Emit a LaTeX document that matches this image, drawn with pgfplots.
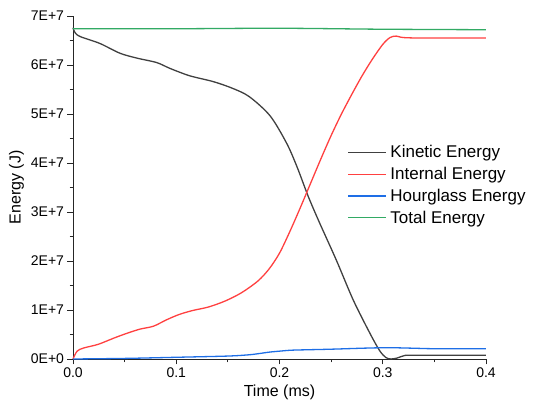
\documentclass[border=0pt]{standalone}
\usepackage{fontspec}
\setmainfont{Liberation Sans}
\usepackage{pgfplots}
\pgfplotsset{compat=1.18}
\definecolor{kinc}{RGB}{64,64,64}
\definecolor{intc}{RGB}{255,64,64}
\definecolor{hgc}{RGB}{30,110,230}
\definecolor{totc}{RGB}{50,170,100}

\begin{document}
\begin{tikzpicture}
\begin{axis}[
    at={(0,0)}, anchor=south west,
    scale only axis,
    width=413pt, height=343pt,
    xmin=0, xmax=0.4, ymin=0, ymax=7e7,
    axis lines=left,
    axis line style={-, line width=0.9pt, black!85},
    tick style={line width=0.9pt, black!85},
    tick align=outside,
    major tick length=5.5pt, minor tick length=3.3pt,
    xtick={0,0.1,0.2,0.3,0.4},
    minor xtick={0.05,0.15,0.25,0.35},
    xticklabel style={/pgf/number format/fixed, /pgf/number format/fixed zerofill, /pgf/number format/precision=1},
    /pgf/number format/assume math mode=true,
    ytick={0,1e7,2e7,3e7,4e7,5e7,6e7,7e7},
    yticklabels={0E+0,1E+7,2E+7,3E+7,4E+7,5E+7,6E+7,7E+7},
    minor ytick={0.5e7,1.5e7,2.5e7,3.5e7,4.5e7,5.5e7,6.5e7},
    scaled y ticks=false,
    tick label style={font=\fontsize{14}{16}\selectfont},
    label style={font=\fontsize{16}{18}\selectfont},
    xlabel={Time (ms)},
    ylabel={Energy (J)},
    legend style={draw=none, fill=none, at={(0.662,0.632)}, anchor=north west,
        font=\fontsize{17}{19}\selectfont, row sep=4pt, inner sep=1pt,
        nodes={inner xsep=4pt}},
    legend cell align=left,
    legend image post style={xscale=2.2, line width=1.3pt},
    every axis plot/.append style={line width=1.3pt},
    clip=false,
]
\addplot[kinc, smooth] coordinates {
 (0,6.76e7) (0.002,6.66e7) (0.007,6.58e7) (0.026,6.44e7) (0.0455,6.24e7)
 (0.062,6.14e7) (0.081,6.05e7) (0.094,5.93e7) (0.113,5.78e7) (0.136,5.66e7)
 (0.155,5.52e7) (0.171,5.35e7) (0.191,4.96e7) (0.207,4.40e7) (0.217,3.92e7)
 (0.228,3.31e7) (0.239,2.77e7) (0.255,2.02e7) (0.2715,1.20e7) (0.2877,0.52e7)
 (0.297,0.17e7) (0.303,0.03e7) (0.308,0.0e7) (0.314,0.02e7) (0.321,0.07e7)
 (0.33,0.075e7) (0.4,0.075e7)
};
\addlegendentry{Kinetic Energy}
\addplot[intc, smooth] coordinates {
 (0,0) (0.004,0.16e7) (0.0104,0.225e7) (0.0245,0.30e7) (0.040,0.43e7)
 (0.053,0.53e7) (0.065,0.61e7) (0.078,0.67e7) (0.0906,0.80e7) (0.103,0.91e7)
 (0.116,0.99e7) (0.131,1.06e7) (0.147,1.18e7) (0.163,1.35e7) (0.179,1.59e7)
 (0.19,1.84e7) (0.20,2.16e7) (0.21,2.6e7) (0.22,3.08e7) (0.23,3.58e7)
 (0.24,4.08e7) (0.25,4.56e7) (0.26,5.0e7) (0.27,5.4e7) (0.28,5.78e7)
 (0.29,6.12e7) (0.30,6.42e7) (0.307,6.56e7) (0.313,6.59e7) (0.32,6.56e7)
 (0.34,6.55e7) (0.4,6.55e7)
};
\addlegendentry{Internal Energy}
\addplot[hgc, smooth] coordinates {
 (0,0) (0.05,0.012e7) (0.1,0.035e7) (0.15,0.06e7) (0.17,0.085e7)
 (0.18,0.11e7) (0.19,0.14e7) (0.2,0.16e7) (0.21,0.178e7) (0.22,0.185e7)
 (0.25,0.2e7) (0.28,0.22e7) (0.3,0.23e7) (0.31,0.23e7) (0.33,0.22e7)
 (0.35,0.21e7) (0.4,0.21e7)
};
\addlegendentry{Hourglass Energy}
\addplot[totc, smooth] coordinates {
 (0,6.74e7) (0.1,6.74e7) (0.2,6.75e7) (0.3,6.73e7) (0.4,6.72e7)
};
\addlegendentry{Total Energy}
\end{axis}
\path (-73pt,-58pt) rectangle (463pt,359pt);
\end{tikzpicture}
\end{document}
